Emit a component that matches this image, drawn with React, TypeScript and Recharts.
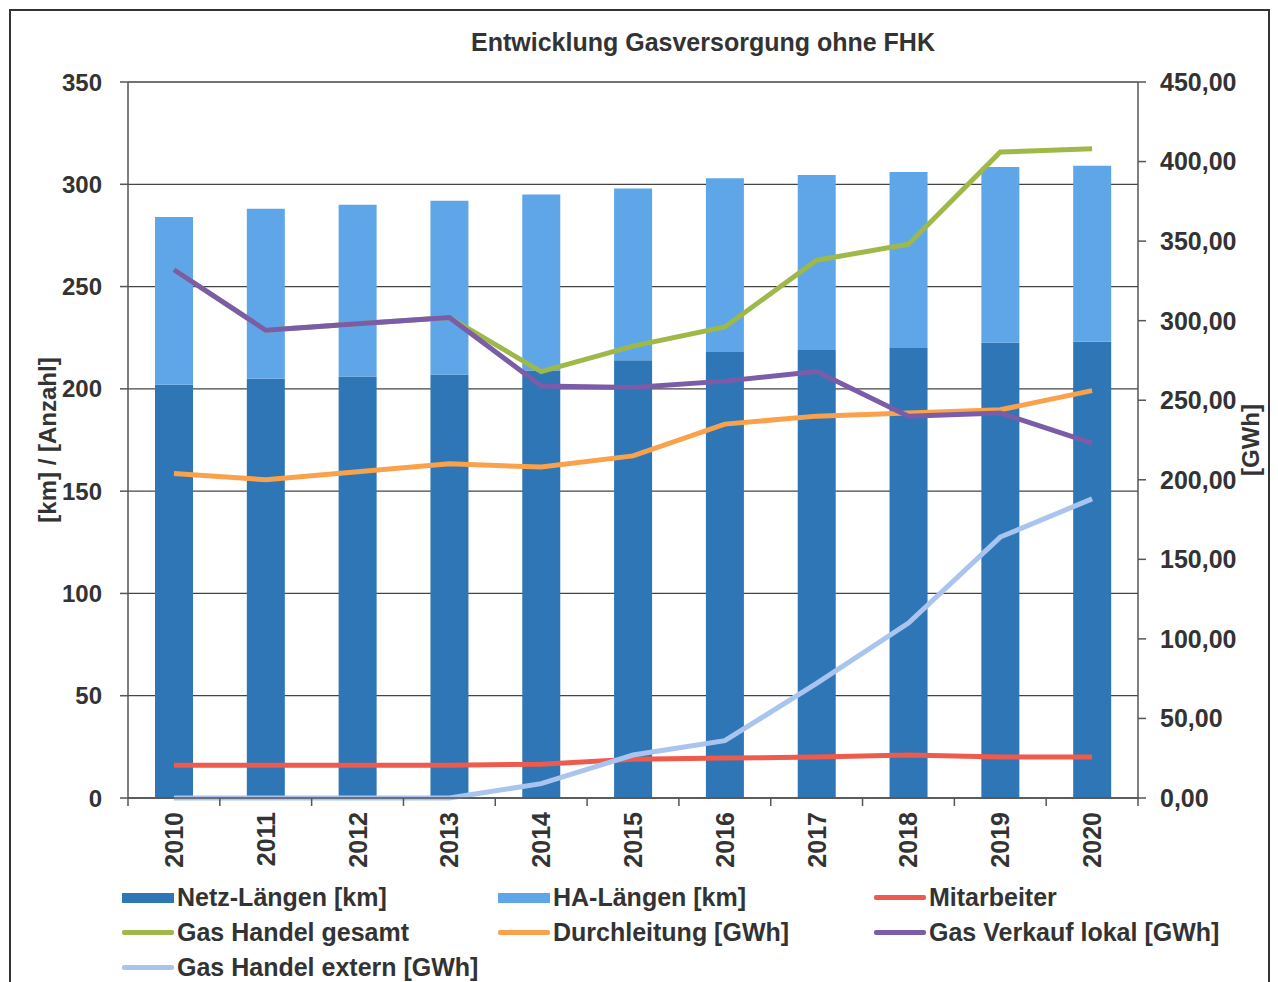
import { ComposedChart, Bar, Line, XAxis, YAxis, CartesianGrid, Legend } from 'recharts';

const years = ['2010', '2011', '2012', '2013', '2014', '2015', '2016', '2017', '2018', '2019', '2020'];

// left axis: km / Anzahl
const netzLaengen = [202, 205, 206, 207, 209, 214, 218, 219, 220, 222.5, 223];
const haLaengen = [82, 83, 84, 85, 86, 84, 85, 85.5, 86, 86, 86];
const mitarbeiter = [16, 16, 16, 16, 16.5, 19, 19.5, 20, 21, 20, 20];

// right axis: GWh
const gasHandelGesamt = [332, 294, 298, 302, 268, 284, 296, 338, 348, 406, 408];
const durchleitung = [204, 200, 205, 210, 208, 215, 235, 240, 242, 244, 256];
const gasVerkaufLokal = [332, 294, 298, 302, 259, 258, 262, 268, 240, 242, 223];
const gasHandelExtern = [0, 0, 0, 0, 9, 27, 36, 72, 110, 164, 188];

const leftTicks = [0, 50, 100, 150, 200, 250, 300, 350];
const rightTicks = [0, 50, 100, 150, 200, 250, 300, 350, 400, 450];

const data = years.map((year, i) => ({
  year,
  netz: netzLaengen[i],
  ha: haLaengen[i],
  mitarbeiter: mitarbeiter[i],
  gesamt: gasHandelGesamt[i],
  durchleitung: durchleitung[i],
  lokal: gasVerkaufLokal[i],
  extern: gasHandelExtern[i],
}));

const FONT = '"Liberation Sans", Arial, sans-serif';
const TEXT = '#333';
const AXIS = '#555';

const legendItems = [
  { name: 'Netz-Längen [km]', color: '#2e76b6', kind: 'bar' },
  { name: 'HA-Längen [km]', color: '#5ea6e8', kind: 'bar' },
  { name: 'Mitarbeiter', color: '#ee5a4c', kind: 'line' },
  { name: 'Gas Handel gesamt', color: '#9fb84a', kind: 'line' },
  { name: 'Durchleitung [GWh]', color: '#f9a24b', kind: 'line' },
  { name: 'Gas Verkauf lokal [GWh]', color: '#7b5ca8', kind: 'line' },
  { name: 'Gas Handel extern [GWh]', color: '#a8c4ef', kind: 'line' },
];

const tickStyle = { fill: TEXT, fontSize: 25, fontWeight: 'bold', fontFamily: FONT };

function YearTick(props: any) {
  const { x, y, payload, index } = props;
  const half = payload?.offset ?? 0;
  const axisY = y - 10;
  return (
    <g>
      {half > 0 && (
        <line x1={x + half} x2={x + half} y1={axisY} y2={axisY + 8} stroke={AXIS} strokeWidth={1.5} />
      )}
      {half > 0 && index === 0 && (
        <line x1={x - half} x2={x - half} y1={axisY} y2={axisY + 8} stroke={AXIS} strokeWidth={1.5} />
      )}
      <text
        x={x}
        y={y + 4}
        transform={`rotate(-90 ${x} ${y + 4})`}
        textAnchor="end"
        dominantBaseline="central"
        style={tickStyle}
      >
        {payload.value}
      </text>
    </g>
  );
}

function LegendBox() {
  return (
    <div
      style={{
        display: 'grid',
        gridTemplateColumns: '376px 376px 376px',
        gridAutoRows: '35px',
        fontFamily: FONT,
      }}
    >
      {legendItems.map((item) => (
        <div key={item.name} style={{ display: 'flex', alignItems: 'center' }}>
          <div
            style={{
              width: 52,
              height: item.kind === 'bar' ? 10 : 5,
              background: item.color,
              borderRadius: item.kind === 'bar' ? 0 : 2,
            }}
          />
          <span style={{ marginLeft: 3, fontSize: 25, fontWeight: 'bold', color: TEXT, whiteSpace: 'nowrap' }}>
            {item.name}
          </span>
        </div>
      ))}
    </div>
  );
}

export default function App() {
  return (
    <div style={{ position: 'absolute', left: 0, top: 0, width: 1278, height: 982, background: '#fff', overflow: 'hidden' }}>
      <div
        style={{
          position: 'absolute',
          left: 9,
          top: 9,
          width: 1261,
          height: 1000,
          border: '2px solid #333',
          boxSizing: 'border-box',
        }}
      />
      <div
        style={{
          position: 'absolute',
          left: 403,
          top: 28,
          width: 600,
          textAlign: 'center',
          fontFamily: FONT,
          fontSize: 25,
          fontWeight: 'bold',
          color: TEXT,
          zIndex: 2,
        }}
      >
        Entwicklung Gasversorgung ohne FHK
      </div>
      <div style={{ position: 'absolute', left: 0, top: 0 }}>
        <ComposedChart width={1278} height={982} data={data} margin={{ top: 82, right: 0, bottom: 0, left: 0 }}>
          <CartesianGrid yAxisId="left" vertical={false} stroke="#444" strokeWidth={1.3} />
          <XAxis
            dataKey="year"
            height={184}
            interval={0}
            tickLine={false}
            tickSize={0}
            tickMargin={10}
            axisLine={{ stroke: AXIS, strokeWidth: 1.5 }}
            tick={<YearTick />}
          />
          <YAxis
            yAxisId="left"
            width={128}
            domain={[0, 350]}
            ticks={leftTicks}
            interval={0}
            tickSize={8}
            tickMargin={18}
            axisLine={{ stroke: AXIS, strokeWidth: 1.5 }}
            tickLine={{ stroke: AXIS, strokeWidth: 1.5 }}
            tick={{ ...tickStyle, fontSize: 24 }}
            label={{
              content: ({ viewBox }: any) => {
                const cx = viewBox.x + 47;
                const cy = viewBox.y + viewBox.height / 2;
                return (
                  <text x={cx} y={cy} transform={`rotate(-90 ${cx} ${cy})`} textAnchor="middle" dominantBaseline="central" style={{ ...tickStyle, fontSize: 24 }}>
                    [km] / [Anzahl]
                  </text>
                );
              },
            }}
          />
          <YAxis
            yAxisId="right"
            orientation="right"
            width={140}
            domain={[0, 450]}
            ticks={rightTicks}
            interval={0}
            tickSize={8}
            tickMargin={14}
            axisLine={{ stroke: AXIS, strokeWidth: 1.5 }}
            tickLine={{ stroke: AXIS, strokeWidth: 1.5 }}
            tick={tickStyle}
            tickFormatter={(v: number) => v.toFixed(2).replace('.', ',')}
            label={{
              content: ({ viewBox }: any) => {
                const cx = viewBox.x + 112;
                const cy = viewBox.y + viewBox.height / 2;
                return (
                  <text x={cx} y={cy} transform={`rotate(-90 ${cx} ${cy})`} textAnchor="middle" dominantBaseline="central" style={{ ...tickStyle, fontSize: 24 }}>
                    [GWh]
                  </text>
                );
              },
            }}
          />
          <Bar yAxisId="left" dataKey="netz" stackId="a" fill={legendItems[0].color} barSize={38} isAnimationActive={false} />
          <Bar yAxisId="left" dataKey="ha" stackId="a" fill={legendItems[1].color} barSize={38} isAnimationActive={false} />
          <Line yAxisId="left" dataKey="mitarbeiter" stroke={legendItems[2].color} strokeWidth={5} dot={false} type="linear" isAnimationActive={false} />
          <Line yAxisId="right" dataKey="gesamt" stroke={legendItems[3].color} strokeWidth={5} dot={false} type="linear" isAnimationActive={false} />
          <Line yAxisId="right" dataKey="durchleitung" stroke={legendItems[4].color} strokeWidth={5} dot={false} type="linear" isAnimationActive={false} />
          <Line yAxisId="right" dataKey="lokal" stroke={legendItems[5].color} strokeWidth={5} dot={false} type="linear" isAnimationActive={false} />
          <Line yAxisId="right" dataKey="extern" stroke={legendItems[6].color} strokeWidth={5} dot={false} type="linear" isAnimationActive={false} />
          <Legend
            layout="horizontal"
            verticalAlign="middle"
            align="center"
            wrapperStyle={{ top: 880, left: 122, width: 1140, height: 105 }}
            content={() => <LegendBox />}
          />
        </ComposedChart>
      </div>
    </div>
  );
}
